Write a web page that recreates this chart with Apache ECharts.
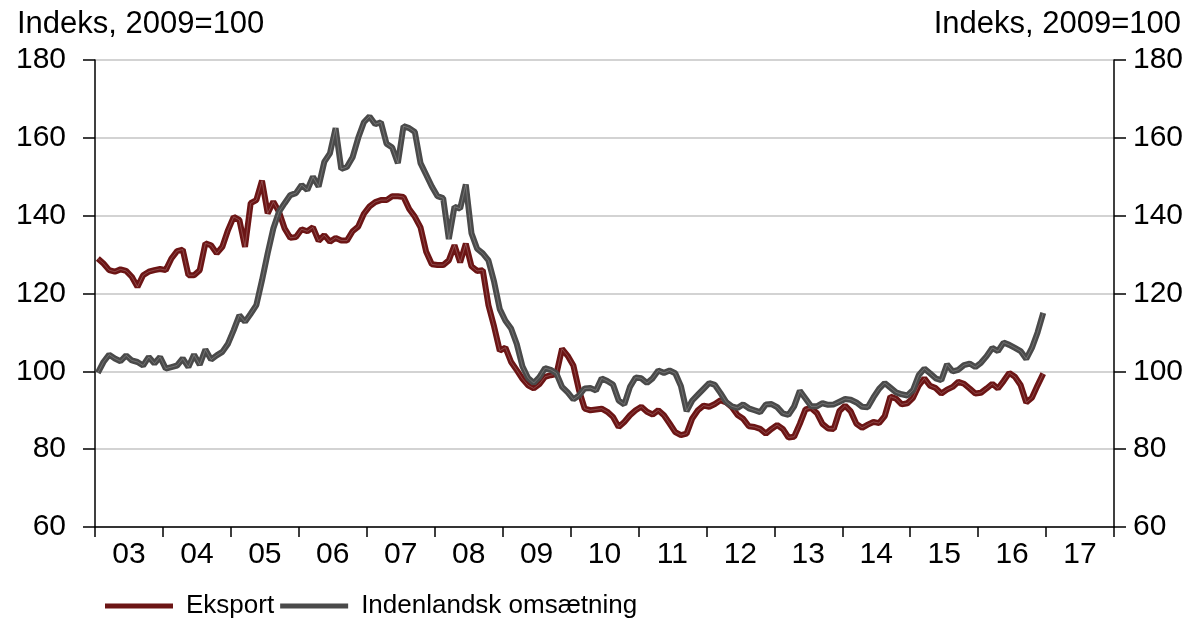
<!DOCTYPE html>
<html>
<head>
<meta charset="utf-8">
<script src="https://cdn.jsdelivr.net/npm/echarts@6/dist/echarts.min.js"></script>
<style>
    html, body { margin: 0; padding: 0; background: #fff; }
    #chart { width: 1196px; height: 618px; }
</style>
</head>
<body>
<div id="chart"></div>
<script>
// years shown on the x axis (2003-2017), one category per month underneath
const yearLabels = ['03', '04', '05', '06', '07', '08', '09', '10', '11', '12', '13', '14', '15', '16', '17']
const months = []
yearLabels.forEach(y => {
    for (let m = 1; m <= 12; m++) months.push(y + '-' + m)
})

const yTicks = { min: 60, max: 180, interval: 20 }

// Eksport, monthly from jan 2003 to dec 2016
const eksport = [
    129.0, 127.7, 126.0, 125.6, 126.2, 125.8, 124.3, 121.7, 124.7, 125.6, 126.0, 126.3,
    126.0, 129.0, 130.9, 131.3, 124.7, 124.7, 126.0, 132.9, 132.4, 130.3, 132.0, 136.3,
    139.7, 138.9, 132.0, 143.2, 144.0, 149.0, 140.6, 143.6, 141.0, 136.7, 134.3, 134.5,
    136.5, 136.0, 137.0, 133.5, 135.0, 133.3, 134.3, 133.6, 133.6, 136.0, 137.2, 140.5,
    142.4, 143.5, 144.0, 144.0, 145.0, 145.0, 144.8, 141.7, 139.7, 137.0, 130.7, 127.5,
    127.3, 127.3, 128.5, 132.4, 128.0, 132.8, 127.0, 125.8, 126.0, 117.0, 111.5, 105.3,
    106.1, 102.4, 100.3, 98.1, 96.4, 95.6, 96.7, 98.6, 99.0, 99.3, 105.8, 104.0,
    101.5, 95.1, 90.4, 90.0, 90.2, 90.4, 89.6, 88.3, 85.7, 87.0, 88.7, 90.0,
    90.9, 89.6, 88.9, 90.0, 88.7, 86.6, 84.4, 83.6, 84.0, 87.9, 90.0, 91.2,
    90.9, 91.6, 92.6, 92.0, 90.8, 88.8, 87.8, 85.9, 85.7, 85.2, 84.0, 85.2,
    86.2, 85.2, 83.0, 83.2, 86.5, 90.2, 90.6, 89.3, 86.5, 85.3, 85.2, 89.8,
    91.2, 89.7, 86.5, 85.5, 86.3, 87.0, 86.7, 88.5, 93.5, 93.0, 91.5, 91.8,
    93.2, 96.3, 98.2, 96.3, 95.7, 94.3, 95.3, 96.0, 97.3, 96.8, 95.6, 94.3,
    94.5, 95.6, 96.8, 95.6, 97.5, 99.6, 98.6, 96.5, 92.0, 93.2, 96.4, 99.4
]

// Indenlandsk omsætning, same months
const indenlandsk = [
    99.6, 102.4, 104.3, 103.3, 102.6, 104.1, 102.8, 102.4, 101.5, 103.7, 102.0, 103.7,
    100.7, 101.1, 101.5, 103.3, 101.1, 104.3, 101.7, 105.6, 103.0, 104.1, 105.0, 107.1,
    110.6, 114.4, 112.7, 114.8, 117.0, 123.4, 130.3, 136.7, 141.0, 143.2, 145.3, 145.8,
    147.9, 146.6, 150.0, 147.5, 153.8, 156.0, 162.5, 152.0, 152.5, 155.0, 160.0, 164.0,
    165.5, 163.5, 164.0, 158.5, 157.5, 153.5, 163.0, 162.5, 161.5, 153.5, 150.5, 147.5,
    145.0, 144.5, 134.0, 142.3, 141.8, 148.0, 135.5, 131.5, 130.3, 128.5, 123.0, 116.0,
    113.0, 111.0, 107.0, 101.3, 98.3, 97.0, 98.5, 100.8, 100.4, 99.5, 96.0, 94.6,
    92.8, 93.8, 95.6, 95.7, 95.1, 98.2, 97.5, 96.6, 92.5, 91.5, 96.0, 98.4,
    98.2, 97.0, 98.2, 100.2, 99.6, 100.2, 99.5, 96.2, 89.8, 92.5, 94.0, 95.5,
    97.0, 96.5, 94.4, 92.1, 91.0, 90.6, 91.5, 90.5, 90.0, 89.5, 91.5, 91.6,
    90.8, 89.2, 88.8, 91.0, 95.0, 93.0, 91.0, 91.0, 91.8, 91.4, 91.5, 92.2,
    92.9, 92.7, 92.0, 90.9, 90.8, 93.3, 95.5, 97.0, 95.8, 94.6, 94.1, 93.8,
    95.2, 99.0, 100.7, 99.5, 98.2, 97.7, 101.8, 100.0, 100.4, 101.6, 102.0, 101.1,
    102.2, 103.9, 106.0, 105.2, 107.4, 106.8, 106.0, 105.2, 103.2, 106.0, 110.0, 115.0
]

const FONT = 'Liberation Sans, Arial, sans-serif'
const RED = '#6c1515'
const GREY = '#4a4a4a'
const SHEEN = 'rgba(255,255,255,0.22)'

const myChart = echarts.init(document.getElementById('chart'))

const yAxisBase = {
    type: 'value',
    min: yTicks.min,
    max: yTicks.max,
    interval: yTicks.interval,
    axisLine: { show: true, lineStyle: { color: '#000', width: 1.5 } },
    axisTick: { show: true, inside: false, length: 12, lineStyle: { color: '#000', width: 1.5 } },
    axisLabel: { color: '#000', fontSize: 30, fontFamily: FONT }
}

// line series plus a thin light streak on top, like the original export
function lineSeries(name, data, color, z) {
    return [
        {
            name: name,
            type: 'line',
            data: data,
            symbol: 'none',
            color: color,
            z: z,
            lineStyle: { color: color, width: 6 }
        },
        {
            name: name + ' (streak)',
            type: 'line',
            data: data,
            symbol: 'none',
            silent: true,
            z: z + 1,
            lineStyle: { color: SHEEN, width: 1 }
        }
    ]
}

myChart.setOption({
    animation: false,
    backgroundColor: '#fff',
    title: [
        { text: 'Indeks, 2009=100', left: 12, top: 4, textStyle: { fontSize: 31, fontWeight: 'normal', color: '#000', fontFamily: FONT } },
        { text: 'Indeks, 2009=100', right: 10, top: 4, textStyle: { fontSize: 31, fontWeight: 'normal', color: '#000', fontFamily: FONT } }
    ],
    legend: {
        left: 100,
        top: 588,
        itemWidth: 68,
        itemHeight: 5,
        itemGap: 6,
        icon: 'rect',
        textStyle: { fontSize: 26, color: '#000', fontFamily: FONT, padding: [0, 0, 0, 8] },
        data: ['Eksport', 'Indenlandsk omsætning']
    },
    grid: { left: 95, right: 82, top: 60, bottom: 91, containLabel: false },
    xAxis: [
        {
            type: 'category',
            data: months,
            boundaryGap: true,
            axisLine: { show: false },
            axisTick: { show: false },
            axisLabel: { show: false },
            splitLine: { show: false }
        },
        {
            type: 'category',
            data: yearLabels,
            position: 'bottom',
            offset: 0,
            boundaryGap: true,
            axisLine: { show: true, lineStyle: { color: '#000', width: 1.5 } },
            axisTick: { show: true, length: 10, lineStyle: { color: '#000', width: 1.5 } },
            axisLabel: { color: '#000', fontSize: 30, fontFamily: FONT, margin: 13 },
            splitLine: { show: false }
        }
    ],
    yAxis: [
        Object.assign({}, yAxisBase, {
            position: 'left',
            axisLabel: Object.assign({}, yAxisBase.axisLabel, { margin: 29 }),
            splitLine: { show: true, lineStyle: { color: '#c4c4c4', width: 1.5 } }
        }),
        Object.assign({}, yAxisBase, {
            position: 'right',
            axisLabel: Object.assign({}, yAxisBase.axisLabel, { margin: 19 }),
            splitLine: { show: false }
        })
    ],
    series: [].concat(
        lineSeries('Eksport', eksport, RED, 2),
        lineSeries('Indenlandsk omsætning', indenlandsk, GREY, 4)
    )
})
</script>
</body>
</html>
